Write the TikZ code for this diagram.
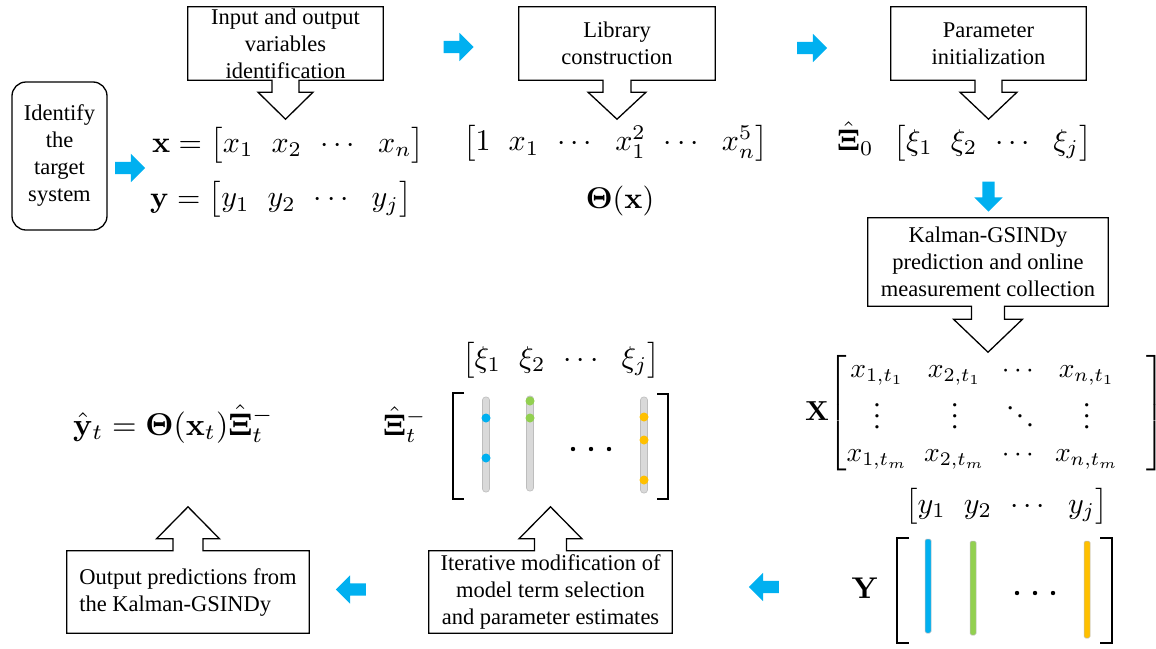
\documentclass[tikz,border=0pt]{standalone}
\usepackage{amsmath}
\usepackage{graphicx}
\usepackage[no-math]{fontspec}
\setmainfont{Liberation Serif}
\usetikzlibrary{calc,shapes.arrows}

\definecolor{arrowblue}{HTML}{00B0F0}
\definecolor{leafgreen}{HTML}{92D050}
\definecolor{amber}{HTML}{FFC000}
\definecolor{barfill}{HTML}{D9D9D9}
\definecolor{baredge}{HTML}{BDBDBD}

% enlarged display maths, with tighter matrix columns
\newcommand{\bigmath}[2][3]{\scalebox{#1}{$\arraycolsep=3pt #2$}}

% box whose lower edge opens into a hollow arrow pointing down
% #1 node, #2 shaft half width, #3 shaft length, #4 head half width, #5 tip distance
\newcommand{\calloutdown}[5]{%
  \draw[boxline] (#1.south west) -- (#1.north west) -- (#1.north east) -- (#1.south east)
    -- ($(#1.south)+(#2,0)$) -- ($(#1.south)+(#2,#3)$) -- ($(#1.south)+(#4,#3)$)
    -- ($(#1.south)+(0,#5)$) -- ($(#1.south)+(-#4,#3)$) -- ($(#1.south)+(-#2,#3)$)
    -- ($(#1.south)+(-#2,0)$) -- cycle;}
% same, with the arrow leaving the upper edge
\newcommand{\calloutup}[5]{%
  \draw[boxline] (#1.north west) -- (#1.south west) -- (#1.south east) -- (#1.north east)
    -- ($(#1.north)+(#2,0)$) -- ($(#1.north)+(#2,-#3)$) -- ($(#1.north)+(#4,-#3)$)
    -- ($(#1.north)+(0,-#5)$) -- ($(#1.north)+(-#4,-#3)$) -- ($(#1.north)+(-#2,-#3)$)
    -- ($(#1.north)+(-#2,0)$) -- cycle;}

\begin{document}
\begin{tikzpicture}[x=1pt,y=-1pt,
  boxline/.style={line width=1.3pt, line join=miter},
  txt/.style={inner sep=0pt, align=center, font=\fontsize{22.5}{27}\selectfont},
  eq/.style={inner sep=0pt, anchor=base},
  eqw/.style={inner sep=0pt, anchor=base west},
  bluearr/.style={single arrow, fill=arrowblue, draw=none, inner sep=6pt,
    minimum height=30pt, single arrow head extend=8pt,
    single arrow tip angle=90, single arrow head indent=0pt},
  brk/.style={line width=2pt, line join=miter},
  graybar/.style={fill=barfill, draw=baredge, line width=0.6pt, rounded corners=3pt},
  colbar/.style={draw=baredge, line width=0.5pt, rounded corners=1.5pt},
  dot/.style={circle, inner sep=0pt, minimum size=9pt}
]
\useasboundingbox (0,0) rectangle (1156,648);

% ---- text boxes ----
\node[txt, draw, boxline, rounded corners=14pt, minimum width=95pt, minimum height=148pt]
  (target) at (59.5,156) {Identify\\the\\target\\system};
\node[txt, minimum width=195pt, minimum height=73pt] (iovar) at (285.5,43.5)
  {Input and output\\variables\\identification};
\node[txt, minimum width=196pt, minimum height=73pt] (lib) at (617,43.5)
  {Library\\construction};
\node[txt, minimum width=195pt, minimum height=73pt] (init) at (988.5,43.5)
  {Parameter\\initialization};
\node[txt, minimum width=240pt, minimum height=88pt] (kal) at (988,262)
  {Kalman-GSINDy\\prediction and online\\measurement collection};
\node[txt, align=left, minimum width=242pt, minimum height=82pt] (outp) at (188,592)
  {Output predictions from\\the Kalman-GSINDy};
\node[txt, minimum width=243pt, minimum height=82pt] (iter) at (550.5,592)
  {Iterative modification of\\model term selection\\and parameter estimates};

\calloutdown{iovar}{13.5}{12}{27.5}{39}
\calloutdown{lib}{14}{12}{29}{39}
\calloutdown{init}{13.5}{12}{28.5}{39}
\calloutdown{kal}{16.5}{13}{34.5}{46}
\calloutup{outp}{15}{12}{31.5}{44}
\calloutup{iter}{16}{12}{31.5}{44}

% ---- flow arrows ----
\node[bluearr] (a1) at (127,168) {};
\node[bluearr] (a2) at (455.5,47) {};
\node[bluearr] (a3) at (809,48) {};
\node[bluearr, rotate=-90] (a4) at (988.5,193.5) {};
\node[bluearr, rotate=180] (a5) at (767,587) {};
\node[bluearr, rotate=180] (a6) at (354,589.5) {};

% ---- variables and library ----
\node[eqw] (xvec) at (152,152.5)
  {\bigmath{\mathbf{x} = \begin{bmatrix} x_1 & x_2 & \cdots & x_n \end{bmatrix}}};
\node[eqw] (yvec) at (150,207)
  {\bigmath{\mathbf{y} = \begin{bmatrix} y_1 & y_2 & \cdots & y_j \end{bmatrix}}};
\node[eq] (libvec) at (615.5,151)
  {\bigmath{\begin{bmatrix} 1 & x_1 & \cdots & x_1^2 & \cdots & x_n^5 \end{bmatrix}}};
\node[eq] (theta) at (620,208.5) {\bigmath{\mathbf{\Theta}(\mathbf{x})}};
\node[eqw] (xi0) at (837,150.5)
  {\bigmath{\hat{\mathbf{\Xi}}_0\hspace{5pt}\begin{bmatrix} \xi_1 & \xi_2 & \cdots & \xi_j \end{bmatrix}}};

% ---- measurement matrices ----
\node[eqw] (xmat) at (805,420)
  {\bigmath[2.75]{\mathbf{X}\hspace{-2pt}\begin{bmatrix}
     x_{1,t_1} & x_{2,t_1} & \cdots & x_{n,t_1} & \hspace{4pt}\\
     \vdots & \vdots & \ddots & \vdots & \\
     x_{1,t_m} & x_{2,t_m} & \cdots & x_{n,t_m} &
   \end{bmatrix}}};
\node[eq] (yhead) at (1006.5,513.5)
  {\bigmath{\begin{bmatrix} y_1 & y_2 & \cdots & y_j \end{bmatrix}}};
\node[eq] (ymat) at (865,598) {\bigmath{\mathbf{Y}}};

\draw[brk] (909,538) -- (897,538) -- (897,643) -- (909,643);
\draw[brk] (1100,538) -- (1112,538) -- (1112,643) -- (1100,643);
\draw[colbar, fill=arrowblue] (925,539) rectangle (931,633);
\draw[colbar, fill=leafgreen] (970,541) rectangle (976,635);
\draw[colbar, fill=amber] (1084,541) rectangle (1090,638);
\foreach \xx in {1017,1035,1053} \fill (\xx,593) circle (2.2pt);

% ---- sparse coefficient matrix ----
\node[eq] (xihead) at (561,367.5)
  {\bigmath{\begin{bmatrix} \xi_1 & \xi_2 & \cdots & \xi_j \end{bmatrix}}};
\node[eqw] (xit) at (383,435) {\bigmath{\hat{\mathbf{\Xi}}_t^-}};

\draw[brk] (464,393) -- (453,393) -- (453,499) -- (464,499);
\draw[brk] (657,394) -- (668,394) -- (668,499) -- (657,499);
\draw[graybar] (482.5,397) rectangle (489.5,492);
\draw[graybar] (526.5,396) rectangle (533.5,491);
\draw[graybar] (640.5,397) rectangle (647.5,493);
\node[dot, fill=arrowblue] at (486,418) {};
\node[dot, fill=arrowblue] at (486,458) {};
\node[dot, fill=leafgreen] at (530,401) {};
\node[dot, fill=leafgreen] at (530,418) {};
\node[dot, fill=amber] at (644,417) {};
\node[dot, fill=amber] at (644,440) {};
\node[dot, fill=amber] at (644,480) {};
\foreach \xx in {573,591,609} \fill (\xx,449) circle (2.2pt);

% ---- prediction ----
\node[eqw] (pred) at (73,435)
  {\bigmath[3.15]{\hat{\mathbf{y}}_t = \mathbf{\Theta}(\mathbf{x}_t)\hat{\mathbf{\Xi}}_t^-}};
\end{tikzpicture}
\end{document}
